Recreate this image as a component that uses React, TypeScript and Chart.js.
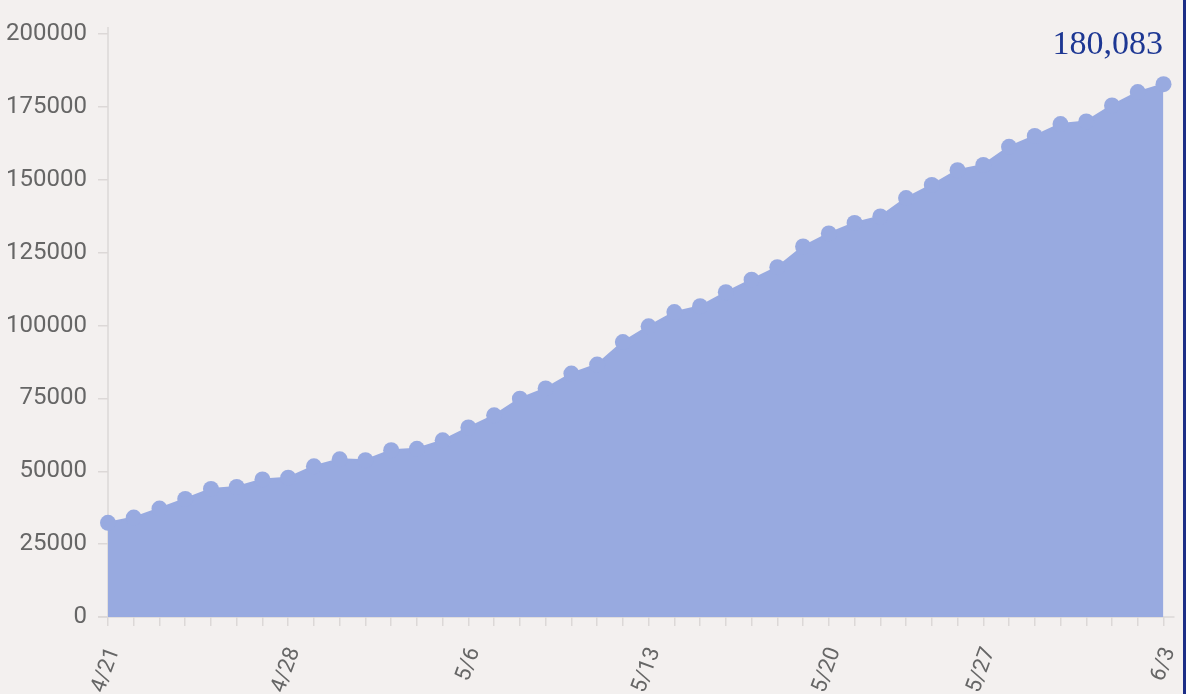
import React, { useEffect, useRef } from 'react';
import { Chart, registerables } from 'chart.js';

Chart.register(...registerables);

const dates = [
  '4/21', '4/22', '4/23', '4/24', '4/25', '4/26', '4/27', '4/28', '4/29', '4/30',
  '5/1', '5/2', '5/4', '5/5', '5/6', '5/7', '5/8', '5/9', '5/10', '5/11',
  '5/12', '5/13', '5/14', '5/15', '5/16', '5/17', '5/18', '5/19', '5/20', '5/21',
  '5/22', '5/23', '5/25', '5/26', '5/27', '5/28', '5/29', '5/30', '5/31', '6/1',
  '6/2', '6/3',
];

const cases = [
  32300, 34100, 37200, 40500, 43900, 44600, 47200, 47800, 51700, 54100,
  53800, 57200, 57700, 60600, 65000, 69200, 74900, 78400, 83500, 86600,
  94300, 99700, 104600, 106600, 111400, 115700, 120000, 127100, 131600, 135200,
  137400, 143700, 148200, 153300, 155100, 161300, 165000, 169100, 170000, 175500,
  180083, 182800,
];

const shownDates = ['4/21', '4/28', '5/6', '5/13', '5/20', '5/27', '6/3'];
const yMin = 0;
const yMax = 200000;
const yStep = 25000;
const headline = '180,083';

const BG = '#f3f0ef';
const FILL = '#98aae0';
const AXIS = '#dcd8d7';
const TICK_TEXT = '#666666';
const NAVY = '#1d3793';

export default function App() {
  const ref = useRef<HTMLCanvasElement>(null);

  useEffect(() => {
    document.body.style.margin = '0';
    const canvas = ref.current;
    if (!canvas) return;

    const axisLines = {
      id: 'axisLines',
      beforeDatasetsDraw(chart: any) {
        const { ctx, chartArea } = chart;
        ctx.save();
        ctx.strokeStyle = AXIS;
        ctx.lineWidth = 1.5;
        ctx.beginPath();
        const x0 = chartArea.left;
        const yb = chartArea.bottom;
        ctx.moveTo(x0, chartArea.top - 7);
        ctx.lineTo(x0, yb);
        ctx.moveTo(x0 - 10, yb);
        ctx.lineTo(chartArea.right + 11, yb);
        ctx.stroke();
        ctx.restore();
      },
    };

    const chart = new Chart(canvas, {
      type: 'line',
      data: {
        labels: dates,
        datasets: [
          {
            data: cases,
            fill: 'origin',
            backgroundColor: FILL,
            borderColor: FILL,
            borderWidth: 2,
            pointRadius: 8,
            pointHoverRadius: 8,
            pointBackgroundColor: FILL,
            pointBorderWidth: 0,
            tension: 0,
            clip: false as any,
          },
        ],
      },
      options: {
        responsive: false,
        animation: false,
        layout: { padding: { top: 34, right: 22.5, left: 0, bottom: 0 } },
        plugins: {
          legend: { display: false },
          tooltip: { enabled: false },
          title: { display: false },
        },
        scales: {
          x: {
            type: 'category',
            border: { display: false },
            grid: {
              display: true,
              drawOnChartArea: false,
              drawTicks: true,
              tickLength: 9,
              color: AXIS,
              lineWidth: 1.5,
            },
            ticks: {
              autoSkip: false,
              maxRotation: 70,
              minRotation: 70,
              padding: 18,
              labelOffset: 6,
              color: TICK_TEXT,
              font: { family: 'Roboto', size: 22 },
              callback: (_v: any, i: number) => (shownDates.includes(dates[i]) ? dates[i] : ''),
            },
            afterFit: (scale: any) => {
              scale.height = 77;
              scale.paddingLeft = 0;
              scale.paddingRight = 0;
            },
          },
          y: {
            min: yMin,
            max: yMax,
            border: { display: false },
            grid: {
              display: true,
              drawOnChartArea: false,
              drawTicks: true,
              tickLength: 10,
              color: AXIS,
              lineWidth: 1.5,
            },
            ticks: {
              stepSize: yStep,
              padding: 11,
              color: TICK_TEXT,
              font: { family: 'Roboto', size: 24 },
              callback: (v: any) => String(v),
            },
            afterFit: (scale: any) => {
              scale.width = 108;
            },
          },
        },
      },
      plugins: [axisLines],
    });

    return () => chart.destroy();
  }, []);

  return (
    <div style={{ position: 'relative', width: 1186, height: 694, background: BG, overflow: 'hidden' }}>
      <canvas ref={ref} width={1186} height={694} style={{ display: 'block' }} />
      <div
        style={{
          position: 'absolute',
          right: 23,
          top: 26,
          fontFamily: '"Liberation Serif", serif',
          fontSize: 34,
          lineHeight: '34px',
          color: NAVY,
          whiteSpace: 'nowrap',
        }}
      >
        {headline}
      </div>
      <div style={{ position: 'absolute', right: 0, top: 0, width: 3, height: 694, background: '#1c2e86' }} />
    </div>
  );
}
